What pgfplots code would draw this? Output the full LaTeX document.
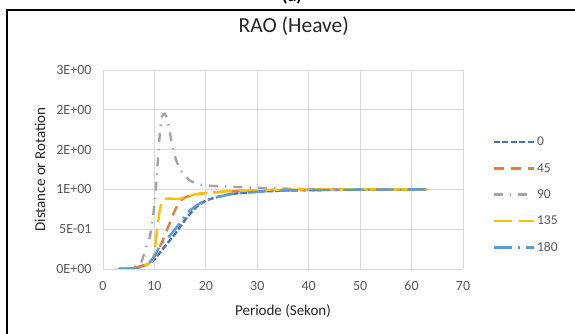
\documentclass[border=0pt]{standalone}
\usepackage{pgfplots}
\pgfplotsset{compat=1.18}
\usepackage{fontspec}
\setmainfont{Carlito}
\definecolor{cA}{HTML}{4472C4}
\definecolor{cB}{HTML}{ED7D31}
\definecolor{cC}{HTML}{A5A5A5}
\definecolor{cD}{HTML}{FFC000}
\definecolor{cE}{HTML}{5B9BD5}
\definecolor{gridc}{HTML}{D9D9D9}
\definecolor{txt}{HTML}{595959}
\begin{document}
\begin{tikzpicture}[x=1pt,y=1pt]
\useasboundingbox (0,0) rectangle (575,334);
\draw[black,line width=1.6pt] (7,0) -- (7,324.2) -- (576,324.2);
\node[font=\bfseries\fontsize{18}{20}\selectfont,anchor=base] at (292,332.6) {(a)};
\begin{axis}[
  at={(103pt,65pt)}, anchor=south west,
  scale only axis, width=360pt, height=199pt,
  xmin=0, xmax=70, ymin=0, ymax=2.5,
  xtick={0,10,...,70},
  ytick={0,0.5,1,1.5,2,2.5},
  yticklabels={0E+00,5E-01,1E+00,2E+00,2E+00,3E+00},
  grid=major,
  major grid style={gridc,line width=0.9pt},
  axis line style={draw=none},
  major tick length=0pt,
  tick label style={font=\fontsize{14}{16}\selectfont,text=txt},
  /pgf/number format/assume math mode=true,
  xticklabel style={yshift=-8.5pt},
  yticklabel style={xshift=-8pt},
  title={RAO (Heave)},
  title style={at={(axis description cs:0.53,1.158)},anchor=base,font=\fontsize{21.5}{24}\selectfont,text=black!85},
  xlabel={Periode (Sekon)},
  ylabel={Distance or Rotation},
  every axis x label/.style={at={(axis description cs:0.5,-0.211)},anchor=center,font=\fontsize{15}{18}\selectfont,text=black!85},
  every axis y label/.style={at={(axis description cs:-0.175,0.5)},rotate=90,anchor=center,font=\fontsize{15}{18}\selectfont,text=black!85},
  legend style={draw=none,fill=none,at={(axis description cs:1.082,0.372)},anchor=west,
    font=\fontsize{13.5}{16}\selectfont,text=txt,row sep=12pt,inner sep=0pt,
    /tikz/every even column/.append style={column sep=3pt}},
  legend cell align=left,
  legend image code/.code={\draw[#1] (0pt,0pt) -- (40pt,0pt);},
  every axis plot/.append style={line width=2.4pt,smooth,tension=0.35},
]
\addplot[cA,dash pattern=on 6pt off 2.5pt] coordinates {
(3,0) (5,0.005) (7,0.02) (8,0.04) (9,0.07) (10,0.12) (11,0.2) (12,0.28) (13,0.36) (14,0.44) (15,0.53) (16,0.62) (17,0.7) (18,0.77) (19,0.82) (20,0.86) (22,0.9) (24,0.93) (26,0.95) (28,0.96) (30,0.97) (35,0.985) (40,0.99) (50,0.997) (63,1.0)};
\addlegendentry{0}
\addplot[cB,dash pattern=on 10pt off 7pt] coordinates {
(3,0) (5,0.005) (7,0.03) (8,0.05) (9,0.08) (10,0.15) (11,0.27) (12,0.42) (13,0.58) (14,0.74) (15,0.85) (16,0.9) (17,0.92) (18,0.935) (20,0.955) (22,0.965) (25,0.975) (30,0.99) (35,0.995) (40,1.0) (50,1.0) (63,1.0)};
\addlegendentry{45}
\addplot[cC,dash pattern=on 9pt off 7pt on 1.5pt off 7pt] coordinates {
(3,0) (5,0.01) (7,0.05) (7.6,0.11) (8.2,0.24) (9.1,0.4) (9.8,0.7) (10.3,1.03) (10.7,1.4) (11.1,1.74) (11.5,1.92) (12,1.95) (12.5,1.88) (13,1.72) (13.6,1.5) (14.6,1.3) (15.5,1.2) (16.3,1.15) (16.9,1.11) (18.9,1.06) (22,1.04) (26,1.03) (30,1.02) (35,1.01) (40,1.005) (50,1.0) (63,1.0)};
\addlegendentry{90}
\addplot[cD,dash pattern=on 18pt off 7pt] coordinates {
(3,0) (5,0.005) (7,0.02) (8,0.04) (9,0.07) (9.5,0.1) (10,0.2) (10.5,0.48) (11,0.72) (11.5,0.85) (12,0.88) (13,0.885) (14,0.88) (15,0.885) (16,0.9) (17,0.92) (18,0.94) (20,0.955) (22,0.965) (25,0.98) (30,0.99) (40,1.0) (63,1.0)};
\addlegendentry{135}
\addplot[cE,dash pattern=on 18pt off 6pt on 2pt off 6pt] coordinates {
(3,0) (5,0.005) (7,0.02) (8,0.04) (9,0.08) (10,0.16) (11,0.28) (12,0.36) (13,0.42) (14,0.5) (15,0.58) (16,0.67) (17,0.74) (18,0.79) (19,0.83) (20,0.86) (22,0.9) (24,0.93) (26,0.95) (28,0.96) (30,0.97) (35,0.985) (40,0.99) (50,0.997) (63,1.0)};
\addlegendentry{180}
\end{axis}
\end{tikzpicture}
\end{document}
